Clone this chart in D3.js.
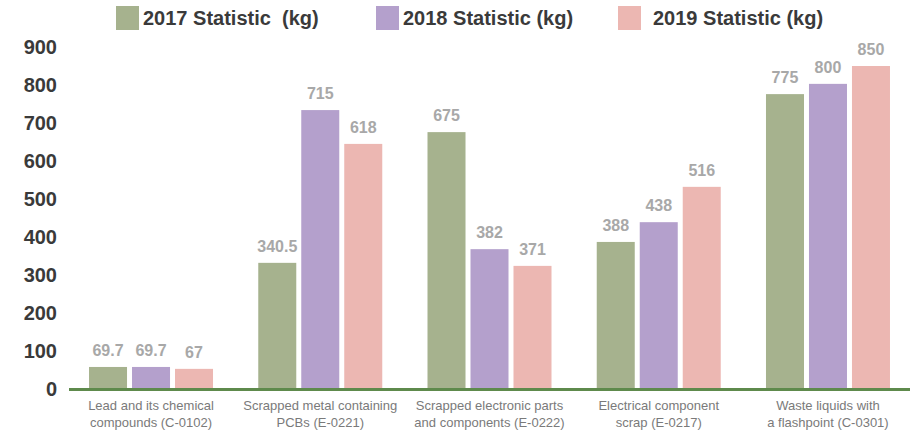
<!DOCTYPE html>
<html><head><meta charset="utf-8">
<script src="https://cdn.jsdelivr.net/npm/d3@7"></script>
<style>body{margin:0;background:#fff;} svg{display:block;font-family:"Liberation Sans",Arial,Helvetica,sans-serif;}</style>
</head><body>
<svg id="chart" width="910" height="431"></svg>
<script>
const categories = [
  ["Lead and its chemical", "compounds (C-0102)"],
  ["Scrapped metal containing", "PCBs (E-0221)"],
  ["Scrapped electronic parts", "and components (E-0222)"],
  ["Electrical component", "scrap (E-0217)"],
  ["Waste liquids with", "a flashpoint (C-0301)"]
];
const seriesNames = ["2017 Statistic  (kg)", "2018 Statistic (kg)", "2019 Statistic (kg)"];
// bar heights as drawn in the picture
const values2017 = [58, 332, 676, 387, 776];
const values2018 = [58, 734, 368, 439, 803];
const values2019 = [53, 645, 324, 532, 850];
// value labels as printed above the bars
const labels2017 = ["69.7", "340.5", "675", "388", "775"];
const labels2018 = ["69.7", "715", "382", "438", "800"];
const labels2019 = ["67", "618", "371", "516", "850"];
const yTicks = [0, 100, 200, 300, 400, 500, 600, 700, 800, 900];
const colors = ["#a6b28e", "#b4a0cc", "#ecb7b2"];

const series = [
  {name: seriesNames[0], values: values2017, labels: labels2017, color: colors[0]},
  {name: seriesNames[1], values: values2018, labels: labels2018, color: colors[1]},
  {name: seriesNames[2], values: values2019, labels: labels2019, color: colors[2]}
];

const svg = d3.select("#chart");
const y = d3.scaleLinear().domain([0, 900]).range([389, 47]);
const x0 = d3.scaleBand().domain(d3.range(categories.length)).range([66.4, 912.6]).paddingInner(0).paddingOuter(0);
const groupW = 124;
const x1 = d3.scaleBand().domain(d3.range(series.length)).range([0, groupW]).paddingInner(0.116);

// y tick labels
svg.append("g").selectAll("text").data(yTicks).join("text")
  .attr("x", 57).attr("y", d => y(d)).attr("dy", "0.35em")
  .attr("text-anchor", "end").attr("font-size", 20).attr("font-weight", "bold")
  .attr("fill", "#3a3a3a").text(d => d);

// bars
const groups = svg.append("g").selectAll("g").data(categories.map((c, i) => i)).join("g")
  .attr("transform", i => `translate(${x0(i) + x0.bandwidth()/2 - groupW/2},0)`);

groups.selectAll("rect").data(i => series.map((s, j) => ({j, v: s.values[i], color: s.color})))
  .join("rect")
  .attr("x", d => x1(d.j)).attr("width", x1.bandwidth())
  .attr("y", d => y(d.v)).attr("height", d => y(0) - y(d.v))
  .attr("fill", d => d.color);

groups.selectAll("text.val").data(i => series.map((s, j) => ({j, v: s.values[i], t: s.labels[i]})))
  .join("text").attr("class", "val")
  .attr("x", d => x1(d.j) + x1.bandwidth()/2).attr("y", d => y(d.v) - 11)
  .attr("text-anchor", "middle").attr("font-size", 16).attr("font-weight", "bold")
  .attr("fill", "#a8a8a8").text(d => d.t);

// baseline axis
svg.append("line").attr("x1", 69).attr("x2", 910).attr("y1", y(0) + 0.5).attr("y2", y(0) + 0.5)
  .attr("stroke", "#5e8a4c").attr("stroke-width", 3);

// category labels
const cl = svg.append("g").selectAll("text").data(categories).join("text")
  .attr("text-anchor", "middle").attr("font-size", 13).attr("fill", "#7a7a7a")
  .attr("transform", (d, i) => `translate(${x0(i) + x0.bandwidth()/2},0)`);
cl.selectAll("tspan").data(d => d).join("tspan")
  .attr("x", 0).attr("y", (d, k) => 410 + k * 16.5).text(d => d);

// legend
const legendX = [116, 376, 618];
const legendTextX = [143, 403, 653];
const lg = svg.append("g").selectAll("g").data(series).join("g");
lg.append("rect").attr("x", (d, i) => legendX[i]).attr("y", 6).attr("width", 23).attr("height", 24)
  .attr("fill", d => d.color);
lg.append("text").attr("x", (d, i) => legendTextX[i]).attr("y", 18).attr("dy", "0.35em")
  .attr("font-size", 20).attr("font-weight", "bold").attr("fill", "#3a3a3a")
  .attr("xml:space", "preserve").style("white-space", "pre").text(d => d.name);
</script>
</body></html>
